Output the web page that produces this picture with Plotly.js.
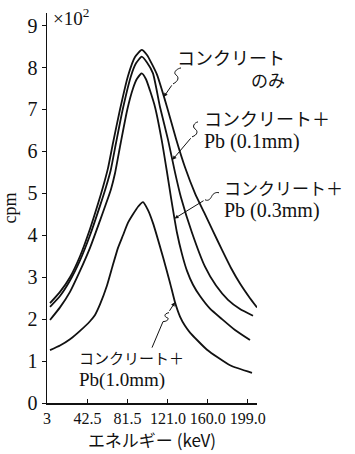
<!DOCTYPE html>
<html>
<head>
<meta charset="utf-8">
<script src="https://cdn.plot.ly/plotly-3.0.1.min.js"></script>
<style>html,body{margin:0;padding:0;background:#fff;}#chart{width:355px;height:454px;}</style>
</head>
<body>
<div id="chart"></div>
<script>
// Energy (keV) and count rate (x10^2 cpm)
const concreteX = [5.93, 15.69, 25.45, 35.21, 44.98, 52.79, 57.67, 62.55, 67.43, 74.26, 82.07, 88.90, 95.45, 100.62, 105.50, 110.38, 120.14, 128.93, 137.71, 147.48, 156.26, 165.05, 173.83, 182.62, 191.40, 201.17, 208.0];
const concreteY = [2.38, 2.65, 3.0, 3.5, 4.15, 4.75, 5.15, 5.6, 6.2, 7.0, 7.8, 8.25, 8.42, 8.3, 8.08, 7.83, 7.06, 6.3, 5.62, 5.0, 4.55, 4.1, 3.65, 3.22, 2.85, 2.5, 2.28];

const pb01X = [5.93, 15.69, 25.45, 35.21, 44.98, 54.74, 60.60, 65.18, 70.36, 76.90, 85.00, 89.88, 95.45, 100.62, 106.48, 113.31, 121.12, 127.95, 133.81, 144.55, 157.24, 167.98, 179.69, 191.40, 204.10];
const pb01Y = [2.29, 2.55, 2.92, 3.4, 4.0, 4.7, 5.15, 5.55, 6.2, 7.0, 7.8, 8.1, 8.26, 8.12, 7.86, 7.06, 6.28, 5.5, 4.9, 4.06, 3.25, 2.8, 2.46, 2.24, 2.08];

const pb03X = [5.93, 15.69, 25.45, 35.21, 44.98, 54.74, 60.60, 65.48, 69.38, 74.94, 81.39, 86.95, 90.86, 95.45, 99.64, 103.55, 108.43, 114.97, 119.85, 124.05, 129.90, 134.79, 139.67, 145.52, 152.36, 162.12, 173.83, 186.52, 201.17];
const pb03Y = [1.98, 2.28, 2.65, 3.15, 3.7, 4.35, 4.75, 5.1, 5.48, 6.2, 7.0, 7.5, 7.73, 7.86, 7.72, 7.45, 7.06, 6.27, 5.55, 4.9, 4.06, 3.55, 3.15, 2.82, 2.55, 2.25, 2.0, 1.74, 1.5];

const pb10X = [5.93, 15.69, 25.45, 35.21, 44.98, 49.86, 54.74, 61.57, 67.43, 72.31, 77.19, 82.07, 86.95, 91.83, 96.71, 101.60, 106.48, 116.24, 123.07, 127.95, 132.83, 137.71, 142.60, 159.19, 181.64, 203.12];
const pb10Y = [1.26, 1.37, 1.52, 1.72, 1.95, 2.1, 2.35, 2.8, 3.3, 3.7, 4.0, 4.3, 4.5, 4.68, 4.79, 4.6, 4.29, 3.48, 2.87, 2.4, 2.06, 1.84, 1.68, 1.27, 0.9, 0.72];

const xTickVals = [3, 42.5, 81.5, 121.0, 160.0, 199.0];
const xTickText = ['3', '42.5', '81.5', '121.0', '160.0', '199.0'];
const yTickVals = [0, 1, 2, 3, 4, 5, 6, 7, 8, 9];

const serif = 'Liberation Serif, Noto Sans CJK JP, serif';
const jp = 'Noto Sans CJK JP, Liberation Serif, serif';

function curve(x, y, name) {
  return {x: x, y: y, name: name, type: 'scatter', mode: 'lines',
    line: {color: '#111', width: 1.8, shape: 'spline', smoothing: 0.5},
    hoverinfo: 'skip', showlegend: false};
}

const data = [
  curve(concreteX, concreteY, 'コンクリートのみ'),
  curve(pb01X, pb01Y, 'コンクリート+Pb(0.1mm)'),
  curve(pb03X, pb03Y, 'コンクリート+Pb(0.3mm)'),
  curve(pb10X, pb10Y, 'コンクリート+Pb(1.0mm)')
];

function jpSpan(t, size) {
  return '<span style="font-size:' + size + 'px">' + t + '</span>';
}
function label(text, x, y, anchor, align) {
  return {text: text, xref: 'paper', yref: 'paper', x: x, y: y, xanchor: anchor, yanchor: 'middle',
    align: align, showarrow: false, font: {family: serif, size: 17, color: '#111'}};
}
function arrow(x, y, ax, ay) {
  return {text: '', x: x, y: y, xref: 'x', yref: 'y', ax: ax, ay: ay, showarrow: true,
    arrowhead: 2, arrowsize: 0.8, arrowwidth: 1, arrowcolor: '#111'};
}
// leader squiggle, drawn in pixels from an anchor point (paper coords)
function squiggle(px, py, path) {
  return {type: 'path', xref: 'paper', yref: 'paper', xsizemode: 'pixel', ysizemode: 'pixel',
    xanchor: (px - 47) / 210, yanchor: (403.5 - py) / 390.5, path: path,
    line: {color: '#111', width: 1}};
}

const layout = {
  width: 355, height: 454,
  margin: {l: 47, r: 98, t: 13, b: 50.5},
  paper_bgcolor: '#fff', plot_bgcolor: '#fff',
  font: {family: serif, color: '#111'},
  xaxis: {
    range: [3, 208], tickvals: xTickVals, ticktext: xTickText,
    showline: true, linecolor: '#111', linewidth: 1.5, mirror: false,
    ticks: 'inside', ticklen: 4, tickcolor: '#111', showgrid: false, zeroline: false,
    tickfont: {family: serif, size: 16, color: '#111'},
    title: {text: 'エネルギー (keV)', font: {family: jp, size: 17, color: '#111'}, standoff: 8}
  },
  yaxis: {
    range: [0, 9.3], tickvals: yTickVals,
    showline: true, linecolor: '#111', linewidth: 1.5,
    ticks: 'outside', ticklen: 4, tickcolor: '#111', showgrid: false, zeroline: false,
    tickfont: {family: serif, size: 20, color: '#111'},
    title: {text: 'cpm', font: {family: serif, size: 18, color: '#111'}, standoff: 8}
  },
  annotations: [
    {text: '×10<sup>2</sup>', xref: 'paper', yref: 'paper', x: 0.02, y: 0.99, xanchor: 'left', yanchor: 'middle',
      showarrow: false, font: {family: serif, size: 19, color: '#111'}},
    label(jpSpan('コンクリート', 18) + '<br>' + jpSpan('のみ', 17), 1.143, 0.854, 'right', 'right'),
    label(jpSpan('コンクリート＋', 18) + '<br><span style="font-size:20px">Pb (0.1mm)</span>', 0.738, 0.695, 'left', 'left'),
    label(jpSpan('コンクリート＋', 17) + '<br><span style="font-size:20px">Pb (0.3mm)</span>', 0.833, 0.519, 'left', 'left'),
    label(jpSpan('コンクリート＋', 15) + '<br><span style="font-size:19px">Pb(1.0mm)</span>', 0.143, 0.083, 'left', 'left'),
    arrow(117.0, 7.3, 9, -13),
    arrow(125.5, 5.8, 19.5, -23),
    arrow(127.5, 4.4, 30.5, -18.7),
    arrow(127.95, 2.4, -6.5, 10)
  ],
  shapes: [
    squiggle(173, 84, 'M0,0 C6,3 6,7 3,9 C0,11 3,15 8,16'),
    squiggle(192, 137, 'M0,0 C6,2 6,6 3,8 C0,10 2,14 6,15'),
    squiggle(205, 200, 'M0,0 C4,-2 6,2 7,4 C8,6 11,8 14,7'),
    squiggle(169, 313, 'M0,0 C-5,-1 -5,-4 -2,-5 C1,-6 -2,-9 -6,-9 L-17,-35')
  ]
};

Plotly.newPlot('chart', data, layout, {displayModeBar: false, staticPlot: true});
</script>
</body>
</html>
